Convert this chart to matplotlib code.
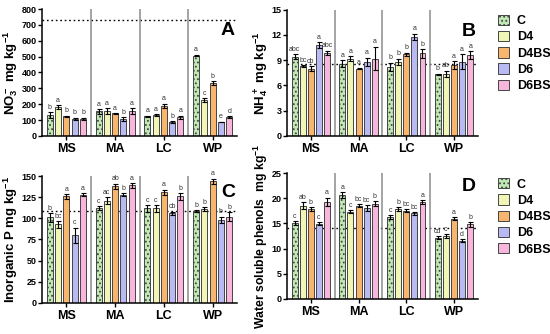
import numpy as np
import matplotlib.pyplot as plt
from matplotlib.patches import Patch

plt.rcParams['font.family'] = ['Liberation Sans', 'DejaVu Sans']
plt.rcParams['hatch.linewidth'] = 0.8
plt.rcParams['mathtext.fontset'] = 'custom'
plt.rcParams['mathtext.rm'] = 'Liberation Sans:bold'
plt.rcParams['mathtext.bf'] = 'Liberation Sans:bold'
plt.rcParams['mathtext.default'] = 'bf'

# ── Data ──────────────────────────────────────────────────────────────────────
SITES = ["MS", "MA", "LC", "WP"]
TREATMENTS = ["C", "D4", "D4BS", "D6", "D6BS"]

# Panel A: NO3- (rows = treatments, cols = sites)
no3_mean = [[130, 155, 125, 507],
            [180, 158, 133, 228],
            [125, 143, 188, 333],
            [108, 105, 88, 88],
            [107, 158, 118, 120]]
no3_err = [[18, 15, 3, 6],
           [12, 18, 5, 12],
           [3, 3, 15, 13],
           [8, 12, 5, 2],
           [8, 18, 10, 5]]
no3_let = [["b", "a", "a", "a"],
           ["a", "a", "a", "c"],
           ["b", "a", "a", "b"],
           ["b", "b", "b", "e"],
           ["b", "a", "a", "d"]]
no3_ref = 730

# Panel B: NH4+
nh4_mean = [[9.4, 8.6, 8.2, 7.3],
            [8.3, 9.2, 8.8, 7.4],
            [8.0, 8.0, 9.7, 8.4],
            [10.8, 8.8, 11.8, 8.8],
            [9.9, 9.2, 9.8, 9.6]]
nh4_err = [[0.3, 0.4, 0.5, 0.1],
           [0.1, 0.3, 0.4, 0.35],
           [0.25, 0.1, 0.2, 0.5],
           [0.35, 0.5, 0.35, 0.9],
           [0.25, 1.4, 0.5, 0.5]]
nh4_let = [["abc", "a", "b", "b"],
           ["bc", "a", "b", "ab"],
           ["cb", "a", "b", "a"],
           ["a", "a", "a", "a"],
           ["abc", "a", "b", "a"]]
nh4_ref = 8.6

# Panel C: inorganic P
pi_mean = [[101, 112, 112, 109],
           [93, 121, 112, 111],
           [126, 138, 131, 144],
           [80, 128, 106, 98],
           [128, 139, 126, 102]]
pi_err = [[5, 2, 4, 1],
          [4, 4, 4, 2],
          [3, 3, 3, 3],
          [9, 2, 2, 4],
          [2, 3, 4, 5]]
pi_let = [["b", "c", "c", "b"],
          ["bc", "ac", "c", "b"],
          ["a", "ab", "a", "a"],
          ["c", "b", "cb", "b"],
          ["a", "a", "b", "b"]]
pi_ref = 109

# Panel D: water soluble phenols
ph_mean = [[15.0, 20.6, 16.3, 12.1],
           [18.5, 17.3, 17.8, 12.5],
           [17.8, 18.5, 17.5, 15.9],
           [14.9, 18.0, 17.0, 11.6],
           [19.3, 18.9, 19.2, 14.8]]
ph_err = [[0.4, 0.6, 0.4, 0.3],
          [0.7, 0.3, 0.4, 0.4],
          [0.4, 0.3, 0.3, 0.3],
          [0.3, 0.6, 0.3, 0.3],
          [0.8, 0.5, 0.4, 0.5]]
ph_let = [["c", "a", "c", "cd"],
          ["ab", "c", "b", "c"],
          ["b", "bc", "bc", "a"],
          ["c", "bc", "bc", "d"],
          ["a", "b", "a", "b"]]
ph_ref = 14

# ── Styles ────────────────────────────────────────────────────────────────────
FACE = ["#bfe8b4", "#f1f5b5", "#f7b56e", "#b9b9f3", "#f8b6dc"]
HATCH = ["....", None, None, None, None]
EDGE = "#444444"

BAR_STEP = 0.17
BAR_W = 0.125


def draw_panel(ax, mean, err, letters, ref, ymax, ystep, ylabel, tag, tag_y,
               label_size=9.5):
    mean = np.array(mean)
    err = np.array(err)
    x = np.arange(len(SITES)) + 0.5
    ax.axhline(ref, color="black", linestyle=(0, (1.2, 2)), linewidth=1.0, zorder=1)
    for k in range(1, len(SITES)):
        ax.axvline(k, color="#8c8c8c", linewidth=1.1, zorder=1)
    for i, t in enumerate(TREATMENTS):
        xi = x + (i - 2) * BAR_STEP
        ax.bar(xi, mean[i], width=BAR_W, color=FACE[i], edgecolor=EDGE,
               hatch=HATCH[i], linewidth=0.7, zorder=2)
        ax.errorbar(xi, mean[i], yerr=err[i], fmt="none", ecolor="black",
                    elinewidth=0.8, capsize=1.8, capthick=0.8, zorder=3)
        for j in range(len(SITES)):
            ax.text(xi[j], mean[i][j] + err[i][j] + ymax * 0.01, letters[i][j],
                    ha="center", va="bottom", fontsize=5, color="#333333", zorder=4)
    ax.set_xlim(0, len(SITES))
    ax.set_ylim(0, ymax)
    ax.set_yticks(np.arange(0, ymax + ystep / 2, ystep))
    ax.set_xticks(x)
    ax.set_xticklabels(SITES, fontsize=9, fontweight="bold")
    ax.tick_params(axis="y", labelsize=6.5, length=3, width=1, pad=1)
    ax.tick_params(axis="x", length=3, width=1, pad=2)
    for lab in ax.get_yticklabels():
        lab.set_fontweight("bold")
    ax.spines["top"].set_visible(False)
    ax.spines["right"].set_visible(False)
    ax.spines["left"].set_linewidth(1.1)
    ax.spines["bottom"].set_linewidth(1.1)
    ax.set_ylabel(ylabel, fontsize=label_size, fontweight="bold", labelpad=1)
    ax.text(0.99, tag_y, tag, transform=ax.transAxes, ha="right", va="center",
            fontsize=14, fontweight="bold")


fig = plt.figure(figsize=(5.5, 3.34), dpi=100)
axA = fig.add_axes([0.0764, 0.593, 0.3545, 0.380])
axB = fig.add_axes([0.5218, 0.593, 0.347, 0.378])
axC = fig.add_axes([0.0764, 0.093, 0.3545, 0.380])
axD = fig.add_axes([0.5218, 0.105, 0.347, 0.377])

draw_panel(axA, no3_mean, no3_err, no3_let, no3_ref, 800, 100,
           r"NO$_3^-$ mg kg$^{-1}$", "A", 0.83)
draw_panel(axB, nh4_mean, nh4_err, nh4_let, nh4_ref, 15, 3,
           r"NH$_4^+$ mg kg$^{-1}$", "B", 0.83)
draw_panel(axC, pi_mean, pi_err, pi_let, pi_ref, 150, 25,
           r"Inorganic P mg kg$^{-1}$", "C", 0.87)
draw_panel(axD, ph_mean, ph_err, ph_let, ph_ref, 25, 5,
           r"Water soluble phenols  mg kg$^{-1}$", "D", 0.89, label_size=8.8)

handles = [Patch(facecolor=FACE[i], edgecolor=EDGE, hatch=HATCH[i],
                 linewidth=0.7, label=t) for i, t in enumerate(TREATMENTS)]
for ax in (axB, axD):
    ax.legend(handles=handles, loc="upper left", bbox_to_anchor=(1.08, 1.0),
              frameon=False, prop={"weight": "bold", "size": 9},
              handlelength=0.9, handleheight=0.9, handletextpad=0.6,
              labelspacing=0.3, borderaxespad=0)

fig.savefig("out.png", dpi=100)
